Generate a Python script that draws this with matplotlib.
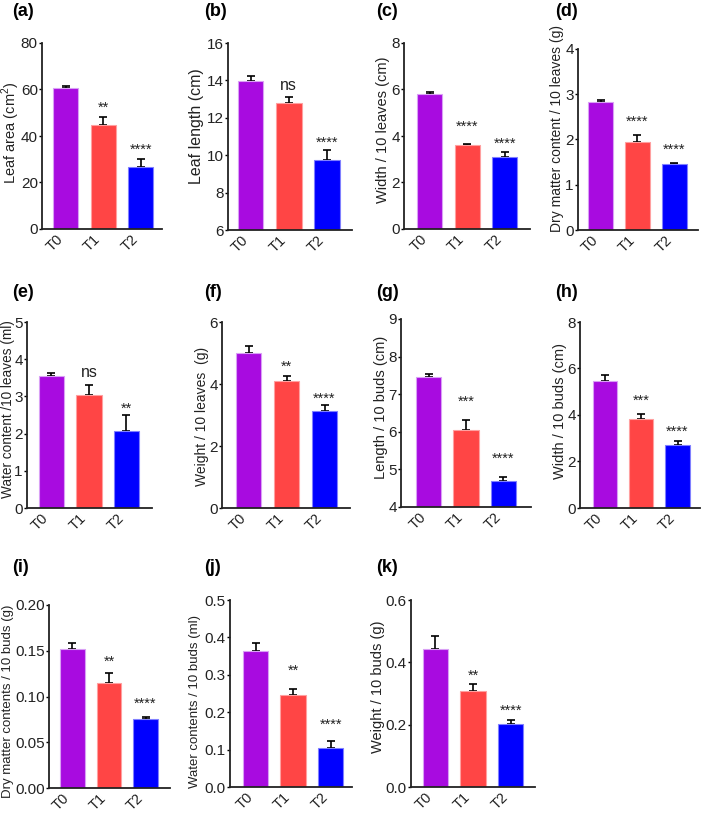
import matplotlib.pyplot as plt

plt.rcParams['font.family'] = ['Liberation Sans', 'DejaVu Sans']
plt.rcParams['mathtext.fontset'] = 'custom'
plt.rcParams['mathtext.rm'] = 'Liberation Sans'

# Data
groups = ['T0', 'T1', 'T2']
letters = ['a', 'b', 'c', 'd', 'e', 'f', 'g', 'h', 'i', 'j', 'k']
ylabels = ['Leaf area (cm$^2$)', 'Leaf length (cm)', 'Width / 10 leaves (cm)',
           'Dry matter content / 10 leaves (g)', 'Water content /10 leaves (ml)',
           'Weight / 10 leaves  (g)', 'Length / 10 buds (cm)', 'Width / 10 buds (cm)',
           'Dry matter contents / 10 buds (g)', 'Water contents / 10 buds (ml)',
           'Weight / 10 buds (g)']
ylims = [(0, 80), (6, 16), (0, 8), (0, 4), (0, 5), (0, 6), (4, 9), (0, 8),
         (0, 0.20), (0, 0.5), (0, 0.6)]
yticks = [[0, 20, 40, 60, 80], [6, 8, 10, 12, 14, 16], [0, 2, 4, 6, 8],
          [0, 1, 2, 3, 4], [0, 1, 2, 3, 4, 5], [0, 2, 4, 6], [4, 5, 6, 7, 8, 9],
          [0, 2, 4, 6, 8], [0.00, 0.05, 0.10, 0.15, 0.20],
          [0.0, 0.1, 0.2, 0.3, 0.4, 0.5], [0.0, 0.2, 0.4, 0.6]]
tickfmt = ['{:.0f}'] * 8 + ['{:.2f}', '{:.1f}', '{:.1f}']
means = [
    [60.5, 44.7, 26.7],
    [13.98, 12.79, 9.73],
    [5.79, 3.60, 3.11],
    [2.82, 1.95, 1.45],
    [3.55, 3.04, 2.06],
    [5.00, 4.09, 3.13],
    [7.45, 6.04, 4.68],
    [5.46, 3.84, 2.69],
    [0.152, 0.115, 0.0753],
    [0.364, 0.246, 0.103],
    [0.443, 0.309, 0.2025],
]
errors = [
    [0.9, 3.5, 3.4],
    [0.25, 0.34, 0.55],
    [0.10, 0.07, 0.21],
    [0.05, 0.16, 0.03],
    [0.08, 0.27, 0.44],
    [0.24, 0.18, 0.19],
    [0.10, 0.28, 0.13],
    [0.25, 0.20, 0.21],
    [0.007, 0.011, 0.0022],
    [0.022, 0.016, 0.021],
    [0.042, 0.021, 0.0135],
]
signif = [
    ['**', '****'], ['ns', '****'], ['****', '****'], ['****', '****'],
    ['ns', '**'], ['**', '****'], ['***', '****'], ['***', '****'],
    ['**', '****'], ['**', '****'], ['**', '****'],
]

# Layout (pixels in a 707x813 image)
W, H = 707, 813
boxes = [  # left, right, top, bottom
    (42, 162, 43, 229), (228, 352, 43, 230), (404, 530, 43, 229), (578, 698, 49, 230),
    (27, 152, 322, 508), (222, 350, 322, 508), (401, 531, 319, 507), (580, 700, 322, 508),
    (49, 170, 605, 788), (230, 352, 600, 787), (411, 535, 600, 787),
]
xlims = [(-0.63, 2.57), (-0.59, 2.65), (-0.68, 2.67), (-0.61, 2.64),
         (-0.65, 2.68), (-0.70, 2.67), (-0.74, 2.74), (-0.69, 2.62),
         (-0.64, 2.67), (-0.68, 2.57), (-0.65, 2.65)]
label_pos = [(12, 12), (204, 12), (376, 12), (555, 12),
             (12, 292), (204, 292), (376, 292), (555, 292),
             (12, 567), (204, 567), (376, 568)]
ylabel_xy = [(11, 133), (197, 126), (383, 130), (557, 128),
             (8, 409), (202, 416), (381, 407), (560, 411),
             (8.5, 701), (195, 701), (378, 687)]
ylabel_size = [10.5, 11.5, 10.5, 10, 9.8, 10, 10.5, 10.5, 9.5, 9.5, 10.5]
star_gap = [[14, 14], [11, 12], [21, 12], [17, 18], [12, 11], [13, 11],
            [22, 22], [18, 13], [15, 18], [23, 20], [13, 13]]

colors = ['#A80BE0', '#FF4545', '#0000FF']
edges = ['#D9A0F5', '#FFA0A0', '#8080FF']

fig = plt.figure(figsize=(W / 100, H / 100), dpi=100)

for p in range(len(letters)):
    l, r, t, b = boxes[p]
    ax = fig.add_axes([l / W, 1 - b / H, (r - l) / W, (b - t) / H])
    x = range(len(groups))
    ax.bar(x, means[p], width=0.67, color=colors, edgecolor=edges, linewidth=0.8, zorder=2)
    ax.errorbar(x, means[p], yerr=[[0, 0, 0], errors[p]], fmt='none', ecolor='black',
                elinewidth=1.2, capsize=3, capthick=1.2, zorder=1)
    ax.set_xlim(*xlims[p])
    ax.set_ylim(*ylims[p])
    ax.set_yticks(yticks[p])
    ax.set_yticklabels([tickfmt[p].format(v) for v in yticks[p]], fontsize=11, color='#222222')
    ax.set_xticks(list(x))
    ax.set_xticklabels(groups, rotation=45, ha='right', va='top', fontsize=10.5, color='#222222')
    ax.tick_params(axis='y', length=2, width=1, pad=1)
    ax.tick_params(axis='x', length=0, pad=2)
    for s in ['top', 'right']:
        ax.spines[s].set_visible(False)
    for s in ['left', 'bottom']:
        ax.spines[s].set_linewidth(1.3)
        ax.spines[s].set_color('#222222')
    ax.set_ylabel(ylabels[p], fontsize=ylabel_size[p], color='#222222', va='center')
    lx, ly = ylabel_xy[p]
    ax.yaxis.set_label_coords((lx - l) / (r - l), 1 - (ly - t) / (b - t))

    for k, txt in enumerate(signif[p]):
        i = k + 1
        top = means[p][i] + errors[p][i]
        fs = 11.5 if txt == 'ns' else 10.5
        center = (0.26 if txt == 'ns' else 0.575) * fs * 100 / 72
        ax.annotate(txt, (i, top), xytext=(0, star_gap[p][k] - center),
                    textcoords='offset pixels', ha='center', va='baseline',
                    fontsize=fs, color='#222222', annotation_clip=False)

    fig.text(label_pos[p][0] / W, 1 - label_pos[p][1] / H, '(' + letters[p] + ')',
             fontsize=13, fontweight='bold', ha='left', va='center')

fig.savefig('out.png', dpi=100)
